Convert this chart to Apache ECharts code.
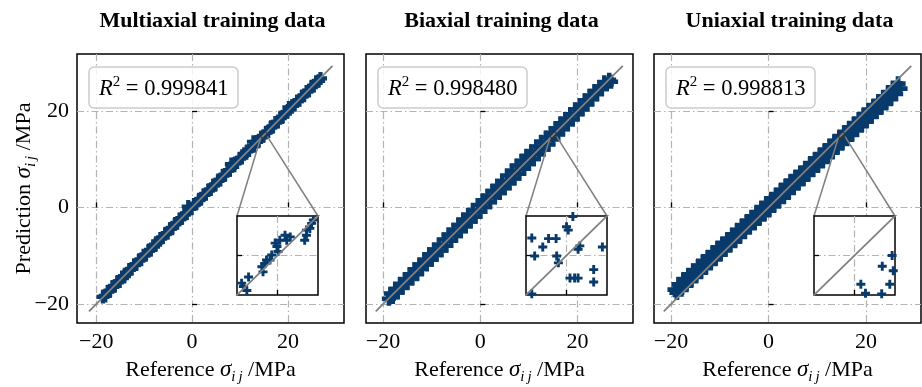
<!DOCTYPE html>
<html>
<head>
<meta charset="utf-8">
<script src="https://cdn.jsdelivr.net/npm/echarts@6/dist/echarts.min.js"></script>
<style>
  html, body { margin: 0; padding: 0; background: #fff; }
  #chart { width: 922px; height: 387px; }
</style>
</head>
<body>
<div id="chart"></div>
<script>
// ---- data ----
const panelTitles = ['Multiaxial training data', 'Biaxial training data', 'Uniaxial training data'];
const r2Values = ['0.999841', '0.998480', '0.998813'];
const tickValues = [-20, 0, 20];
const insetTicks = [15];
const zoomCenter = [15, 15];
const insetRange = [14.3, 15.7];
const diagEnds = [-21.5, 29.3];

// reference / prediction pairs, multiaxial
const multiaxialPoints = [
  [-18.6,-18.5],[-18.1,-18.3],[-17.6,-17.4],[-17.1,-17.2],[-16.6,-16.4],[-16.1,-16.2],[-15.6,-15.5],[-15.1,-15.3],
  [-14.6,-14.4],[-14.1,-14.2],[-13.6,-13.7],[-13.1,-12.9],[-12.6,-12.7],[-12.1,-11.9],[-11.6,-11.7],[-11.1,-11.0],
  [-10.6,-10.8],[-10.1,-9.9],[-9.6,-9.7],[-9.1,-9.0],[-8.6,-8.8],[-8.1,-7.9],[-7.6,-7.7],[-7.1,-7.2],[-6.6,-6.4],
  [-6.1,-6.2],[-5.6,-5.5],[-5.1,-5.3],[-4.6,-4.4],[-4.1,-4.2],[-3.6,-3.5],[-3.1,-3.2],[-2.6,-2.4],[-2.1,-2.2],
  [-1.6,-1.5],[-1.1,-1.2],[-0.6,-0.3],[-0.1,-0.2],[0.4,0.6],[0.9,0.8],[1.4,1.5],[1.9,1.8],[2.4,2.6],[2.9,2.8],
  [3.4,3.5],[3.9,3.7],[4.4,4.6],[4.9,4.8],[5.4,5.5],[5.9,5.7],[6.4,6.6],[6.9,6.8],[7.4,7.6],[7.9,7.7],[8.4,8.6],
  [8.9,9.1],[9.4,9.3],[9.9,10.1],[10.4,10.3],[10.9,11.1],[11.4,11.6],[11.9,11.8],[12.4,12.6],[12.9,12.7],
  [13.4,13.6],[13.9,13.8],[14.4,14.5],[14.9,14.8],[15.4,15.5],[15.9,15.7],[16.4,16.5],[16.9,16.8],[17.4,17.6],
  [17.9,17.7],[18.4,18.5],[18.9,18.8],[19.4,19.6],[19.9,19.8],[20.4,20.3],[20.9,21.0],[21.4,21.3],[21.9,22.0],
  [22.4,22.2],[22.9,22.9],[23.4,23.2],[23.9,24.0],[24.4,24.2],[24.9,24.9],[25.4,25.2],[25.9,26.0],[26.4,26.2],
  [26.8,26.7],[8.2,9.0],[12.8,13.6],[-0.8,0.2],[20.2,20.7]
];

// biaxial
const biaxialPoints = [
  [-18.8,-18.9],[-18.4,-17.8],[-18.0,-18.5],[-17.5,-16.9],[-17.0,-17.6],[-16.5,-15.8],[-16.0,-16.6],[-15.5,-14.9],
  [-15.0,-15.7],[-14.5,-13.8],[-14.0,-14.7],[-13.5,-12.8],[-13.0,-13.8],[-12.5,-11.8],[-12.0,-12.7],[-11.5,-10.8],
  [-11.0,-11.8],[-10.5,-9.7],[-10.0,-10.8],[-9.5,-8.7],[-9.0,-9.8],[-8.5,-7.7],[-8.0,-8.9],[-7.5,-6.6],[-7.0,-7.9],
  [-6.5,-5.6],[-6.0,-6.9],[-5.5,-4.6],[-5.0,-5.9],[-4.5,-3.6],[-4.0,-4.9],[-3.5,-2.5],[-3.0,-3.9],[-2.5,-1.5],
  [-2.0,-2.9],[-1.5,-0.6],[-1.0,-1.9],[-0.5,0.5],[0.0,-0.9],[0.5,1.5],[1.0,0.1],[1.5,2.4],[2.0,1.1],[2.5,3.4],
  [3.0,2.1],[3.5,4.5],[4.0,3.0],[4.5,5.5],[5.0,4.0],[5.5,6.6],[6.0,5.0],[6.5,7.6],[7.0,6.0],[7.5,8.7],[8.0,7.0],
  [8.5,9.6],[9.0,8.0],[9.5,10.7],[10.0,9.0],[10.5,11.6],[11.0,10.0],[11.5,12.6],[12.0,11.0],[12.5,13.6],[13.0,12.0],
  [13.5,14.5],[14.0,13.0],[14.5,15.4],[15.0,14.1],[15.5,16.4],[16.0,15.1],[16.5,17.4],[17.0,16.2],[17.5,18.3],
  [18.0,17.2],[18.5,19.3],[19.0,18.2],[19.5,20.3],[20.0,19.3],[20.5,21.2],[21.0,20.3],[21.5,22.2],[22.0,21.3],
  [22.5,23.1],[23.0,22.4],[23.5,24.1],[24.0,23.4],[24.5,25.0],[25.0,24.5],[25.5,25.9],[26.0,25.5],[26.5,26.4],
  [26.9,26.0],[-10.2,-10.1],[-3.2,-3.1],[4.2,4.3],[9.8,9.9],[16.2,16.3],[22.8,22.7]
];

// uniaxial
const uniaxialPoints = [
  [-19.2,-17.0],[-18.8,-17.6],[-18.4,-15.9],[-17.9,-16.9],[-17.4,-14.9],[-16.9,-16.0],[-16.4,-14.0],[-15.9,-15.1],
  [-15.4,-13.1],[-14.9,-14.2],[-14.4,-12.1],[-13.9,-13.3],[-13.4,-11.2],[-12.9,-12.4],[-12.4,-10.3],[-11.9,-11.5],
  [-11.4,-9.3],[-10.9,-10.6],[-10.4,-8.4],[-9.9,-9.7],[-9.4,-7.5],[-8.9,-8.7],[-8.4,-6.6],[-7.9,-7.8],[-7.4,-5.7],
  [-6.9,-6.9],[-6.4,-4.7],[-5.9,-6.0],[-5.4,-3.8],[-4.9,-5.0],[-4.4,-2.9],[-3.9,-4.1],[-3.4,-2.0],[-2.9,-3.2],
  [-2.4,-1.0],[-1.9,-2.3],[-1.4,-0.1],[-0.9,-1.4],[-0.4,0.8],[0.1,-0.5],[0.6,1.7],[1.1,0.4],[1.6,2.6],[2.1,1.3],
  [2.6,3.6],[3.1,2.2],[3.6,4.5],[4.1,3.1],[4.6,5.4],[5.1,4.1],[5.6,6.3],[6.1,5.0],[6.6,7.2],[7.1,5.9],[7.6,8.1],
  [8.1,6.8],[8.6,9.1],[9.1,7.8],[9.6,10.0],[10.1,8.7],[10.6,10.9],[11.1,9.6],[11.6,11.8],[12.1,10.5],[12.6,12.7],
  [13.1,11.5],[13.6,13.7],[14.1,12.4],[14.6,14.6],[15.1,13.3],[15.6,15.5],[16.1,14.2],[16.6,16.4],[17.1,15.1],
  [17.6,17.3],[18.1,16.1],[18.6,18.2],[19.1,17.0],[19.6,19.2],[20.1,17.9],[20.6,20.1],[21.1,18.8],[21.6,21.0],
  [22.1,19.8],[22.6,21.9],[23.1,20.7],[23.6,22.8],[24.1,21.6],[24.6,23.8],[25.1,22.5],[25.6,24.7],[26.1,23.5],
  [26.6,25.6],[27.0,24.6],[-15.0,-13.6],[-6.0,-5.2],[2.0,2.2],[10.0,9.4],[18.0,17.0],[24.0,22.6]
];

// points seen inside the zoom insets around (15, 15)
const multiaxialInset = [
  [14.41,14.45],[14.50,14.62],[14.38,14.51],[14.47,14.38],[14.73,14.80],[14.78,14.86],[14.81,14.92],[14.90,15.01],
  [14.75,14.71],[14.99,15.16],[15.04,15.27],[15.16,15.27],[15.13,15.36],[15.22,15.33],[14.96,15.22],[15.50,15.36],
  [15.47,15.27],[15.50,15.45],[15.59,15.57],[15.62,15.63],[15.56,15.48],[15.01,15.07],[14.87,14.92]
];
const biaxialInset = [
  [14.40,15.31],[14.59,15.15],[14.69,15.30],[14.82,15.30],[14.45,14.99],[15.00,15.51],[15.03,15.45],[15.11,15.69],
  [14.86,14.87],[14.83,14.99],[15.20,15.11],[15.23,15.17],[15.62,15.15],[15.06,14.60],[15.14,14.60],[15.20,14.60],
  [15.47,14.75],[15.47,14.53],[14.40,14.32]
];
const uniaxialInset = [
  [15.65,15.00],[15.48,14.81],[15.11,14.49],[15.19,14.33],[15.61,14.49],[15.67,14.73],[15.47,14.32]
];

const mainData = [multiaxialPoints, biaxialPoints, uniaxialPoints];
const insetData = [multiaxialInset, biaxialInset, uniaxialInset];

// ---- layout / style ----
const serif = '"Liberation Serif", "DejaVu Serif", serif';
const navy = '#083a6b';
const plus = 'path://M-1,-0.32L-0.32,-0.32L-0.32,-1L0.32,-1L0.32,-0.32L1,-0.32L1,0.32L0.32,0.32L0.32,1L-0.32,1L-0.32,0.32L-1,0.32Z';
const panelLeft = [77, 366, 654];
const panelTop = 54, panelW = 267, panelH = 269;
const xLimits = [[-24, 31.7], [-23.5, 31.4], [-23.5, 31.3]];
const yLimits = [-23.9, 31.75];
const markSize = [13, 14, 15];
const gridLine = { color: '#b3b3b3', width: 1.2, type: [7, 3, 1.5, 3] };

const nameRich = {
  t: { fontFamily: serif, fontSize: 22, fontWeight: 'normal', color: '#000', lineHeight: 30, verticalAlign: 'middle' },
  g: { fontFamily: serif, fontSize: 23, fontStyle: 'italic', fontWeight: 'normal', color: '#000', lineHeight: 30, verticalAlign: 'middle' },
  sub: { fontFamily: serif, fontSize: 15, fontStyle: 'italic', fontWeight: 'normal', color: '#000', lineHeight: 30, verticalAlign: 'bottom' }
};
const r2Rich = {
  r: { fontFamily: serif, fontSize: 22.5, fontStyle: 'italic', fontWeight: 'normal', color: '#000', lineHeight: 28, verticalAlign: 'middle' },
  s: { fontFamily: serif, fontSize: 15, fontWeight: 'normal', color: '#000', lineHeight: 28, verticalAlign: 'top' },
  t: { fontFamily: serif, fontSize: 22.5, fontWeight: 'normal', color: '#000', lineHeight: 28, verticalAlign: 'middle' }
};
const fmtTick = v => String(v).replace('-', '\u2212');

const grids = [], xAxes = [], yAxes = [], series = [], titles = [];

// main panels
for (let i = 0; i < 3; i++) {
  grids.push({ left: panelLeft[i], top: panelTop, width: panelW, height: panelH, outerBoundsMode: 'none',
    show: true, borderColor: '#000', borderWidth: 1.5, backgroundColor: '#fff' });
  xAxes.push({
    type: 'value', gridIndex: i, min: xLimits[i][0], max: xLimits[i][1],
    axisLine: { show: false },
    axisTick: { inside: true, length: 5, customValues: tickValues, lineStyle: { color: '#000', width: 1.3 } },
    axisLabel: { customValues: tickValues, formatter: fmtTick, margin: 8,
      fontFamily: serif, fontSize: 22, color: '#000' },
    splitLine: { show: true, lineStyle: gridLine },
    name: '{t|Reference }{g|\u03c3}{sub|i\u2009j}{t| /MPa}',
    nameLocation: 'middle', nameGap: 32, nameMoveOverlap: false, nameTextStyle: { rich: nameRich }
  });
  yAxes.push({
    type: 'value', gridIndex: i, min: yLimits[0], max: yLimits[1],
    axisLine: { show: false },
    axisTick: { inside: true, length: 5, customValues: tickValues, lineStyle: { color: '#000', width: 1.3 } },
    axisLabel: { show: i === 0, customValues: tickValues, formatter: fmtTick, margin: 8,
      fontFamily: serif, fontSize: 22, color: '#000' },
    splitLine: { show: true, lineStyle: gridLine },
    name: i === 0 ? '{t|Prediction }{g|\u03c3}{sub|i\u2009j}{t| /MPa}' : '',
    nameLocation: 'middle', nameGap: 38, nameMoveOverlap: false, nameTextStyle: { rich: nameRich }
  });
  series.push({
    type: 'scatter', xAxisIndex: i, yAxisIndex: i, data: mainData[i],
    symbol: plus, symbolSize: markSize[i], itemStyle: { color: navy, opacity: 1 }, z: 2, silent: true
  });
  series.push({
    type: 'line', xAxisIndex: i, yAxisIndex: i, data: [[diagEnds[0], diagEnds[0]], [diagEnds[1], diagEnds[1]]],
    showSymbol: false, lineStyle: { color: '#808080', width: 1.8 }, z: 3, silent: true
  });
  series.push({
    type: 'scatter', xAxisIndex: i, yAxisIndex: i, data: [zoomCenter],
    symbol: 'circle', symbolSize: 7,
    itemStyle: { color: 'rgba(0,0,0,0)', borderColor: '#333', borderWidth: 1.3 }, z: 4, silent: true
  });
  titles.push({
    text: panelTitles[i], left: panelLeft[i] + panelW / 2 + 2, top: 10, textAlign: 'center', padding: 0,
    textStyle: { fontFamily: serif, fontWeight: 'bold', fontSize: 22, color: '#000' }
  });
  titles.push({
    text: '{r|R}{s|2}{t| = ' + r2Values[i] + '}',
    left: panelLeft[i] + 12, top: 67, padding: [8, 10, 8, 10],
    backgroundColor: 'rgba(255,255,255,0.85)', borderColor: '#cccccc', borderWidth: 1.5, borderRadius: 5,
    textStyle: { fontWeight: 'normal', rich: r2Rich }
  });
}

// zoom insets
for (let i = 0; i < 3; i++) {
  const g = 3 + i;
  grids.push({ left: panelLeft[i] + 160, top: 216, width: 81, height: 79, z: 5, outerBoundsMode: 'none',
    show: true, borderColor: '#000', borderWidth: 1.5, backgroundColor: '#fff' });
  xAxes.push({
    type: 'value', gridIndex: g, min: insetRange[0], max: insetRange[1], z: 5,
    axisLine: { show: false },
    axisTick: { inside: true, length: 5, customValues: insetTicks, lineStyle: { color: '#000', width: 1.3 } },
    axisLabel: { show: false, customValues: insetTicks },
    splitLine: { show: true, lineStyle: gridLine }
  });
  yAxes.push({
    type: 'value', gridIndex: g, min: insetRange[0], max: insetRange[1], z: 5,
    axisLine: { show: false },
    axisTick: { inside: true, length: 5, customValues: insetTicks, lineStyle: { color: '#000', width: 1.3 } },
    axisLabel: { show: false, customValues: insetTicks },
    splitLine: { show: true, lineStyle: gridLine }
  });
  series.push({
    type: 'scatter', xAxisIndex: g, yAxisIndex: g, data: insetData[i],
    symbol: plus, symbolSize: 9, itemStyle: { color: navy, opacity: 1 }, z: 6, silent: true
  });
  series.push({
    type: 'line', xAxisIndex: g, yAxisIndex: g, data: [[diagEnds[0], diagEnds[0]], [diagEnds[1], diagEnds[1]]],
    showSymbol: false, lineStyle: { color: '#808080', width: 1.8 }, z: 7, silent: true
  });
}

const chart = echarts.init(document.getElementById('chart'), null, { renderer: 'canvas' });
chart.setOption({
  animation: false,
  backgroundColor: '#fff',
  title: titles,
  grid: grids,
  xAxis: xAxes,
  yAxis: yAxes,
  series: series
});

// connector lines from the zoom marker to the inset corners
const connectors = [];
for (let i = 0; i < 3; i++) {
  const c = chart.convertToPixel({ gridIndex: i }, zoomCenter);
  const tl = chart.convertToPixel({ gridIndex: 3 + i }, [insetRange[0], insetRange[1]]);
  const tr = chart.convertToPixel({ gridIndex: 3 + i }, [insetRange[1], insetRange[1]]);
  connectors.push({ type: 'line', z: 4, silent: true,
    shape: { x1: c[0] - 3, y1: c[1] + 2, x2: tl[0], y2: tl[1] },
    style: { stroke: '#808080', lineWidth: 1.5 } });
  connectors.push({ type: 'line', z: 4, silent: true,
    shape: { x1: c[0] + 3, y1: c[1] + 1, x2: tr[0], y2: tr[1] },
    style: { stroke: '#808080', lineWidth: 1.5 } });
}
chart.setOption({ graphic: connectors });
</script>
</body>
</html>
